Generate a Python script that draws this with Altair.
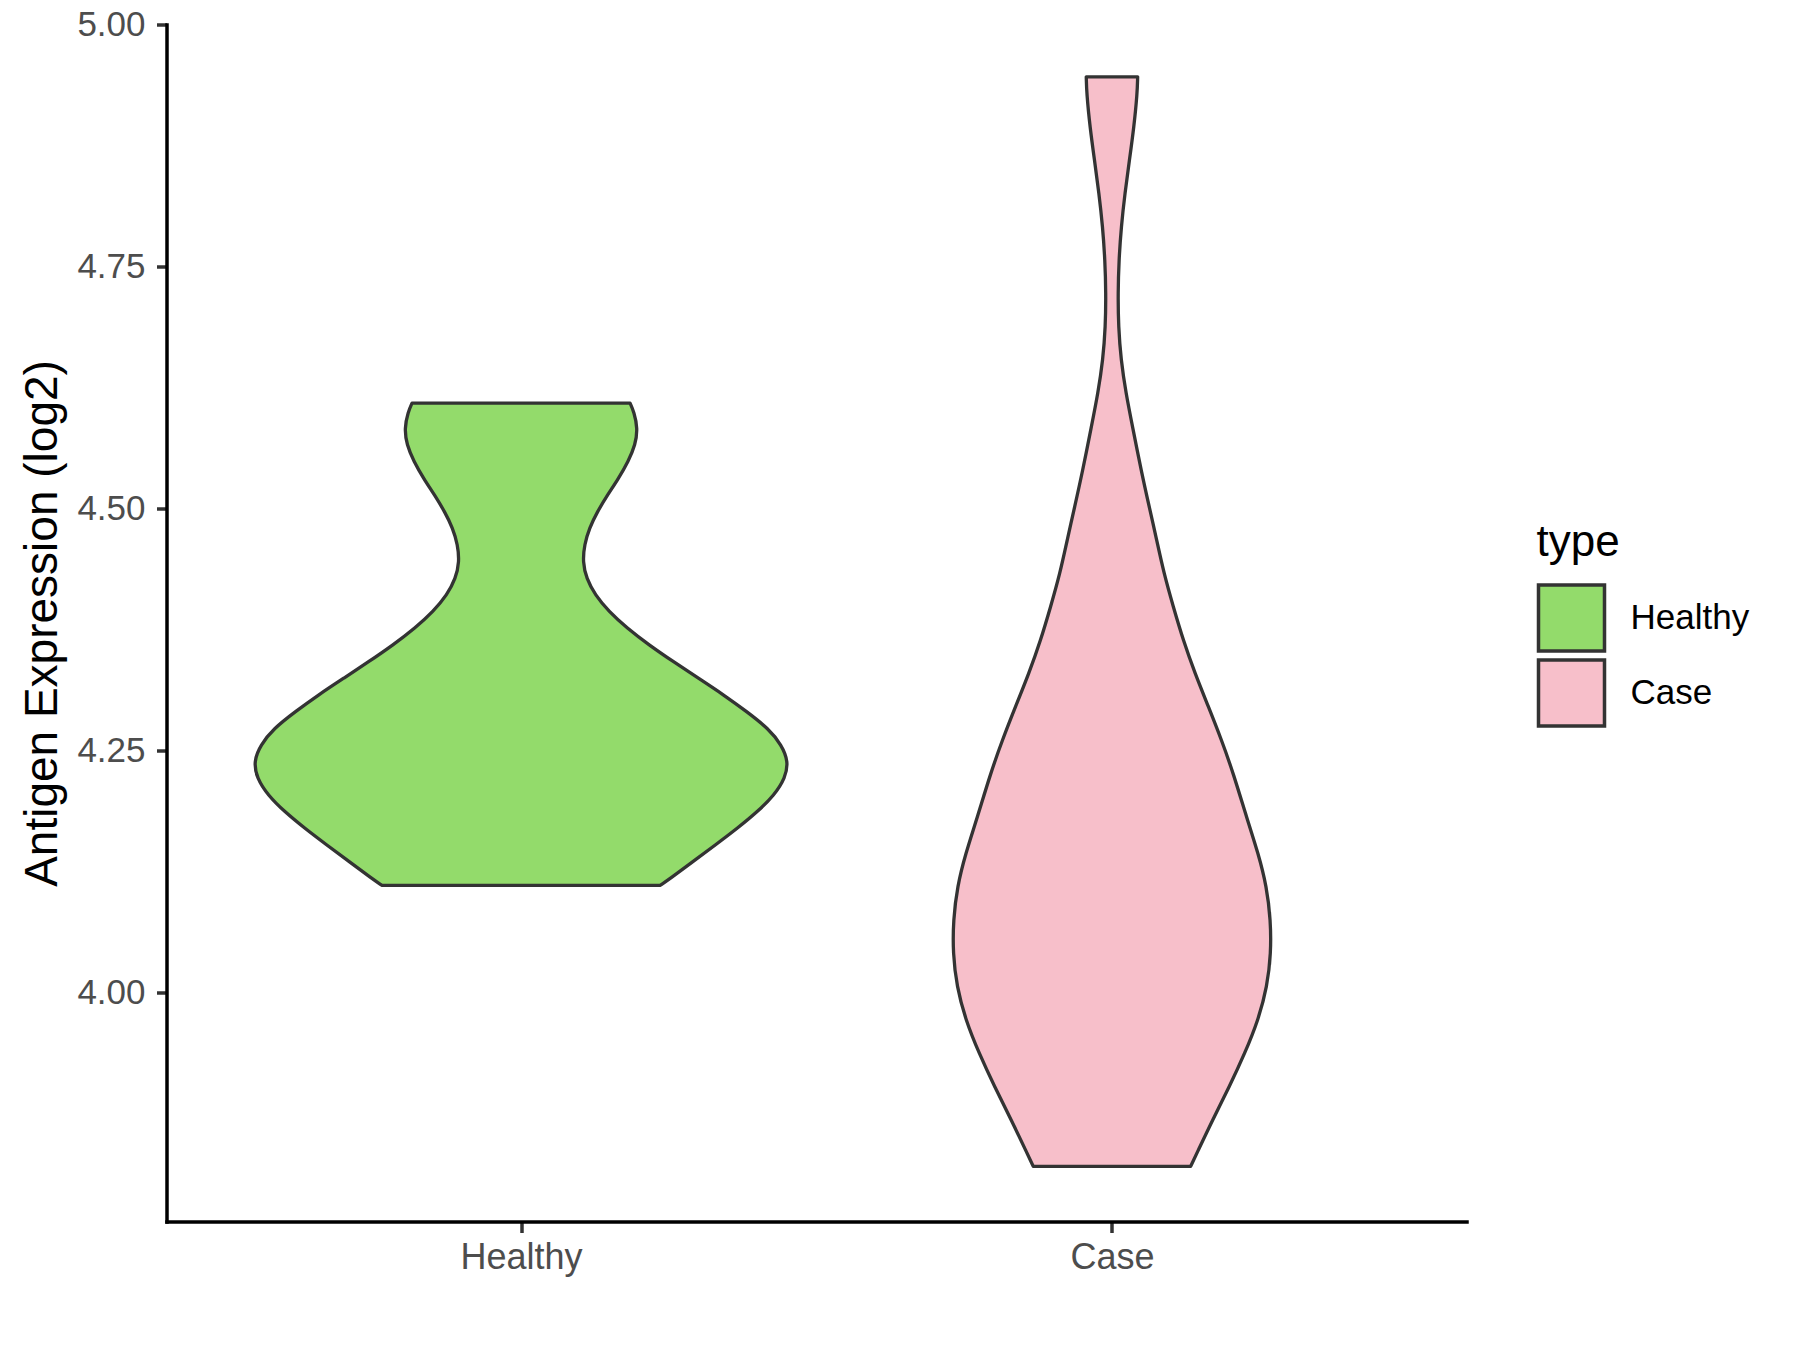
import altair as alt
import pandas as pd

# ---- data ----
categories = ["Healthy", "Case"]
fill_colors = ["#93DB6B", "#F7BFCA"]
y_ticks = [4.00, 4.25, 4.50, 4.75, 5.00]

# violin outlines: expression value (log2) and half-width (in category units)
healthy_y = [4.609, 4.600, 4.583, 4.566, 4.549, 4.531, 4.514, 4.497, 4.480, 4.463,
             4.445, 4.428, 4.411, 4.394, 4.377, 4.359, 4.342, 4.325, 4.308, 4.290,
             4.273, 4.256, 4.239, 4.222, 4.204, 4.187, 4.170, 4.153, 4.136, 4.118, 4.111]
healthy_w = [0.1845, 0.1912, 0.1974, 0.1935, 0.1816, 0.1647, 0.1461, 0.1292, 0.1156, 0.1072,
             0.1044, 0.1106, 0.1252, 0.1484, 0.1788, 0.2172, 0.2578, 0.3001, 0.3424, 0.3830,
             0.4186, 0.4411, 0.4524, 0.4473, 0.4282, 0.4000, 0.3661, 0.3294, 0.2916, 0.2522, 0.2352]

case_y = [4.946, 4.929, 4.894, 4.860, 4.826, 4.791, 4.757, 4.722, 4.688, 4.654,
          4.619, 4.585, 4.537, 4.502, 4.468, 4.433, 4.399, 4.364, 4.330, 4.296,
          4.261, 4.227, 4.179, 4.144, 4.110, 4.075, 4.041, 4.007, 3.972, 3.938,
          3.903, 3.869, 3.834, 3.821]
case_w = [0.0435, 0.0428, 0.0372, 0.0296, 0.0220, 0.0157, 0.0118, 0.0102, 0.0110, 0.0152,
          0.0237, 0.0347, 0.0503, 0.0631, 0.0756, 0.0880, 0.1037, 0.1207, 0.1405, 0.1630,
          0.1856, 0.2053, 0.2290, 0.2476, 0.2618, 0.2686, 0.2691, 0.2628, 0.2476, 0.2251,
          0.1985, 0.1704, 0.1433, 0.1332]

rows = []
for i, (name, ys, ws) in enumerate([("Healthy", healthy_y, healthy_w), ("Case", case_y, case_w)]):
    for y, w in zip(ys, ws):
        rows.append({"type": name, "pos": i + 1, "value": y, "half": w})
df = pd.DataFrame(rows)

label_expr = " : ".join(
    [f"datum.value == {i + 1} ? '{c}'" for i, c in enumerate(categories)]
) + " : ''"

FONT = "Liberation Sans"

chart = alt.Chart(df).transform_calculate(
    left="datum.pos - datum.half",
    right="datum.pos + datum.half",
).mark_area(
    orient="horizontal",
    interpolate="basis",
    stroke="#333333",
    strokeWidth=3.3,
    strokeJoin="round",
).encode(
    y=alt.Y(
        "value:Q",
        scale=alt.Scale(domain=[3.764, 5.0], nice=False, zero=False),
        axis=alt.Axis(
            values=y_ticks,
            format=".2f",
            title="Antigen Expression (log2)",
            titleFontSize=46,
            titleFont=FONT,
            titleFontWeight="normal",
            titleColor="black",
            titleX=-110.5,
            titleBaseline="alphabetic",
            labelFontSize=35,
            labelPadding=11.5,
            tickSize=10,
        ),
    ),
    x=alt.X(
        "left:Q",
        scale=alt.Scale(domain=[0.4, 2.6], nice=False, zero=False),
        axis=alt.Axis(
            values=[1, 2],
            labelExpr=label_expr,
            title="",
            labelFontSize=36,
            labelPadding=8,
            tickSize=11,
        ),
    ),
    x2="right:Q",
    fill=alt.Fill(
        "type:N",
        scale=alt.Scale(domain=categories, range=fill_colors),
        legend=alt.Legend(
            title="type",
            orient="none",
            legendX=1370,
            legendY=496,
            symbolType="square",
            symbolSize=4356,
            symbolStrokeColor="#333333",
            symbolStrokeWidth=3.5,
            symbolOpacity=1,
            titleFontSize=44,
            titleFont=FONT,
            titleFontWeight="normal",
            titleColor="black",
            titlePadding=18.5,
            labelFontSize=35,
            labelFont=FONT,
            labelColor="black",
            labelOffset=24,
            rowPadding=-8.5,
            padding=0,
        ),
    ),
    detail=alt.Detail("type:N"),
).properties(
    width=1300,
    height=1197,
    autosize=alt.AutoSizeParams(type="none"),
    padding={"left": 158.5, "top": 16.5, "right": 325.5, "bottom": 120.5},
).configure_axis(
    grid=False,
    domainColor="black",
    domainWidth=3.5,
    domainCap="square",
    tickColor="#333333",
    tickWidth=3.5,
    labelFont=FONT,
    labelColor="#4D4D4D",
).configure_view(
    strokeWidth=0,
)

chart.save("out.html", embed_options={"renderer": "svg", "actions": False})
